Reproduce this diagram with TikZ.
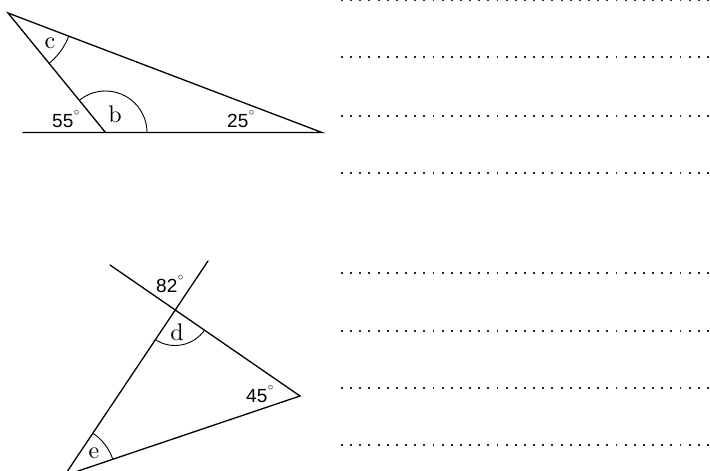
\documentclass[tikz,border=0pt]{standalone}
\usepackage{fontspec}
\newfontfamily\numfont{Liberation Sans}
\newfontfamily\lettfont{lmroman10-regular.otf}
\newcommand\degsign{\kern0.5pt\raisebox{11.5pt}{\fontsize{11}{11}\selectfont$\circ$}}
\begin{document}
\begin{tikzpicture}[x=1pt,y=-1pt,
  edge/.style={line width=1.3pt, line cap=round},
  anglearc/.style={line width=0.9pt},
  letter/.style={inner sep=0pt, font=\lettfont\fontsize{24}{24}\selectfont},
  deg/.style={inner sep=0pt, anchor=base west, font=\numfont\fontsize{19}{19}\selectfont},
  dotrow/.style={line width=1.9pt, dash pattern=on 1.9pt off 7.25pt, black!85}]
\useasboundingbox (0,0) rectangle (710,471);
\clip (0,0) rectangle (710,471);

% ---- top triangle ----
\coordinate (A) at (8,13);
\coordinate (B) at (105.5,132.5);
\coordinate (C) at (322,132.5);
\coordinate (L) at (23,132.5);
\draw[edge] (L) -- (C) -- (A) -- (B);
\draw[anglearc] (A) ++(20.8:65) arc[start angle=20.8, end angle=50.8, radius=65];
\draw[anglearc] (B) ++(230.8:41.5) arc[start angle=230.8, end angle=360, radius=41.5];
\node[letter, anchor=base] (c) at (50,48) {c};
\node[letter, anchor=base] (b) at (115,122) {b};
\node[deg] (n55) at (52,127) {55\degsign};
\node[deg] (n25) at (227,127) {25\degsign};

% ---- bottom triangle ----
\coordinate (P) at (175,309.5);
\coordinate (R) at (300,396);
\coordinate (E) at (64.5,475.6);
\coordinate (T) at (208,261);
\coordinate (S) at (110,265);
\draw[edge] (S) -- (R) -- (E) -- (T);
\draw[anglearc] (P) ++(34.7:36) arc[start angle=34.7, end angle=123.6, radius=36];
\draw[anglearc] (E) ++(-56.4:51) arc[start angle=-56.4, end angle=-18.7, radius=51];
\node[letter, anchor=base] (d) at (177,340) {d};
\node[letter, anchor=base] (e) at (94,458) {e};
\node[deg] (n82) at (156,292) {82\degsign};
\node[deg] (n45) at (246,402) {45\degsign};

% ---- dotted answer lines ----
\foreach \yy in {0.4,57.3,115.7,173.3,273,331,388,445}{
  \draw[dotrow] (341,\yy) -- (710,\yy);
}
\end{tikzpicture}
\end{document}
